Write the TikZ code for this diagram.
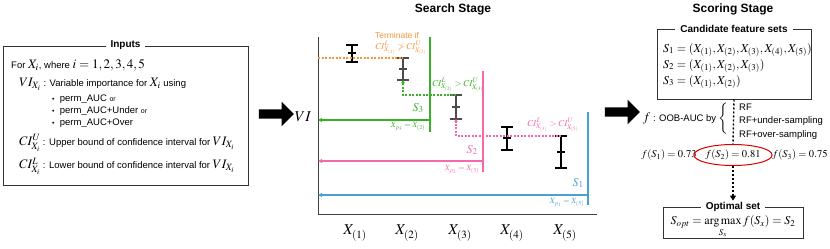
\documentclass[tikz,border=0pt]{standalone}
\usepackage{amsmath,amssymb}
\usepackage{mathptmx}
\usepackage[no-math]{fontspec}
\setmainfont{Liberation Sans}
\usepackage{tikz}
\usetikzlibrary{positioning,arrows.meta,shapes.geometric,shapes.arrows,calc}

\definecolor{termorange}{RGB}{245,150,60}
\definecolor{sthree}{RGB}{60,175,40}
\definecolor{stwo}{RGB}{245,105,170}
\definecolor{sone}{RGB}{75,160,210}

\newcommand{\mth}[1]{{\fontsize{13}{15}\selectfont$#1$}}

\begin{document}
\begin{tikzpicture}[
    x=1pt, y=-1pt,
    panel/.style={draw=black!80, line width=1pt, inner sep=0pt},
    paneltitle/.style={fill=white, inner xsep=5pt, inner ysep=1pt, font=\bfseries\fontsize{10}{12}\selectfont},
    stagetitle/.style={font=\bfseries\fontsize{12}{14}\selectfont},
    txt/.style={inner sep=0pt, anchor=west, font=\fontsize{9.5}{11}\selectfont},
    setlbl/.style={inner sep=0pt, anchor=west, font=\fontsize{12}{14}\selectfont},
    axlbl/.style={font=\fontsize{15}{17}\selectfont},
    cilbl/.style={inner sep=0pt, font=\fontsize{9}{11}\selectfont},
    slbl/.style={inner sep=0pt, font=\fontsize{12}{14}\selectfont},
    fval/.style={inner sep=0pt, font=\fontsize{10.5}{12}\selectfont},
    plbl/.style={inner sep=0pt, font=\fontsize{8}{10}\selectfont},
    axis/.style={draw=black!75, line width=1pt},
    errbar/.style={line width=1.2pt},
    stageline/.style={line width=1.2pt},
    back/.style={stageline, -{Triangle[length=4pt,width=4pt]}},
    cmpline/.style={line width=1.2pt, dash pattern=on 2pt off 1.5pt},
    cmp/.style={cmpline, -{Triangle[length=3pt,width=3.5pt]}},
    flowdot/.style={line width=1.4pt, dash pattern=on 2pt off 2pt},
    bigarrow/.style={single arrow, fill=black, inner xsep=0pt, inner ysep=4.5pt, minimum height=35pt, single arrow head extend=7.5pt},
]
  \useasboundingbox (0,0) rectangle (830,249);

  % inputs
  \node[panel, minimum width=245pt, minimum height=139pt] (inputs) at (125.5,115.5) {};
  \node[paneltitle] (inputsT) at (inputs.north) {Inputs};
  \node[txt] (in1) at (11,65) {For \mth{X_i}, where \mth{i = 1,2,3,4,5}};
  \node[txt] (in2) at (19,84) {\mth{VI_{X_i}} : Variable importance for \mth{X_i} using};
  \node[txt] (bul1) at (52,99) {{\scriptsize\textbullet}\ \ perm\_AUC {\scriptsize or}};
  \node[txt] (bul2) at (52,111) {{\scriptsize\textbullet}\ \ perm\_AUC+Under {\scriptsize or}};
  \node[txt] (bul3) at (52,123) {{\scriptsize\textbullet}\ \ perm\_AUC+Over};
  \node[txt] (ciu) at (19,143) {\mth{CI^U_{X_i}} : Upper bound of confidence interval for \mth{VI_{X_i}}};
  \node[txt] (cil) at (19,166) {\mth{CI^L_{X_i}} : Lower bound of confidence interval for \mth{VI_{X_i}}};

  \node[bigarrow] (arr1) at (274,114) {};
  \node[bigarrow] (arr2) at (620,112) {};

  % search stage
  \node[stagetitle] (searchT) at (453,9) {Search Stage};
  \coordinate (top) at (318,37);
  \coordinate (orig) at (318,214);
  \coordinate (xend) at (597,214);
  \draw[axis] (top) -- (orig) -- (xend);
  \node[axlbl] (vi) at (303,117) {$VI$};
  \foreach \n/\x in {1/355, 2/407, 3/460, 4/512, 5/565}
    \node[axlbl] (xl\n) at (\x,233) {$X_{(\n)}$};

  \foreach \n/\x/\t/\m/\b/\c in {1/352/45/53/62/black, 2/403/58/69/80/black!70, 3/456/95/107/119/black!70, 4/507/127/138/150/black, 5/561/136/152/168/black} {
    \coordinate (e\n t) at (\x,\t);
    \coordinate (e\n b) at (\x,\b);
    \draw[errbar, \c] (e\n t) -- (e\n b);
    \draw[errbar, \c] (\x-6,\t) -- (\x+6,\t) (\x-4,\m) -- (\x+4,\m) (\x-6,\b) -- (\x+6,\b);
  }

  \draw[cmpline, termorange] (top |- e2t) -- (e2t);
  \node[plbl, text=termorange, font=\fontsize{8.5}{10}\selectfont] (termT) at (397,35) {Terminate if};
  \node[cilbl, text=termorange] (termC) at (401,48) {$CI^L_{X_{(1)}} \ngtr CI^U_{X_{(2)}}$};

  \coordinate (s3t) at (430,37);
  \coordinate (s3b) at (430,132);
  \coordinate (s3a) at (430,120);
  \draw[stageline, sthree] (s3t) -- (s3b);
  \draw[back, sthree] (s3a) -- (top |- s3a);
  \draw[cmp, sthree] (e3t) -| (e2b);
  \node[cilbl, text=sthree] (c3) at (458,85) {$CI^L_{X_{(2)}} > CI^U_{X_{(3)}}$};
  \node[slbl, text=sthree] (s3) at (418,108) {$S_3$};
  \node[plbl, text=sthree] (p3) at (408,127) {$X_{p_3} = X_{(2)}$};

  \coordinate (s2t) at (483,71);
  \coordinate (s2b) at (483,172);
  \coordinate (s2a) at (483,161);
  \draw[stageline, stwo] (s2t) -- (s2b);
  \draw[back, stwo] (s2a) -- (top |- s2a);
  \draw[cmp, stwo] (e5t) -| (e3b);
  \node[cilbl, text=stwo] (c2) at (553,125) {$CI^L_{X_{(3)}} > CI^U_{X_{(5)}}$};
  \node[slbl, text=stwo] (s2) at (472,150) {$S_2$};
  \node[plbl, text=stwo] (p2) at (462,170) {$X_{p_2} = X_{(3)}$};

  \coordinate (s1t) at (588,112);
  \coordinate (s1b) at (588,205);
  \coordinate (s1a) at (588,195);
  \draw[stageline, sone] (s1t) -- (s1b);
  \draw[back, sone] (s1a) -- (top |- s1a);
  \node[slbl, text=sone] (s1) at (578,183) {$S_1$};
  \node[plbl, text=sone] (p1) at (567,203) {$X_{p_1} = X_{(5)}$};

  % scoring stage
  \node[stagetitle] (scoreT) at (733,9) {Scoring Stage};
  \node[panel, minimum width=154pt, minimum height=70pt] (cand) at (734,64) {};
  \node[paneltitle] (candT) at (cand.north) {Candidate feature sets};
  \node[setlbl] (set1) at (663,50) {$S_1 = (X_{(1)}, X_{(2)}, X_{(3)}, X_{(4)}, X_{(5)})$};
  \node[setlbl] (set2) at (663,66) {$S_2 = (X_{(1)}, X_{(2)}, X_{(3)})$};
  \node[setlbl] (set3) at (663,82) {$S_3 = (X_{(1)}, X_{(2)})$};

  \node[txt, anchor=east] (fdef) at (730,119) {\mth{f} : OOB-AUC by \mth{\left\{\rule[-14pt]{0pt}{30pt}\right.}};
  \node[txt, align=left, font=\fontsize{9.5}{13.5}\selectfont] (rf) at (739,121.5) {RF\\RF+under-sampling\\RF+over-sampling};

  \node[fval] (fv1) at (669,155) {$f(S_1) = 0.73$};
  \node[fval, ellipse, draw=red!85!black, line width=1pt, minimum width=60pt, minimum height=21pt] (fv2) at (733,155) {$f(S_2) = 0.81$};
  \node[fval] (fv3) at (800,155) {$f(S_3) = 0.75$};

  \node[panel, minimum width=140pt, minimum height=31pt] (opt) at (733,222.5) {};
  \node[paneltitle] (optT) at (opt.north) {Optimal set};
  \node[slbl] (optf) at (733,227) {$S_{opt} = \mathop{\mathrm{arg\,max}}\limits_{S_x} f(S_x) = S_2$};

  \draw[flowdot] (cand.south) -- (fv2.north);
  \draw[flowdot, -{Triangle[length=5pt,width=6pt]}] (fv2.south) -- (optT.north);
\end{tikzpicture}
\end{document}
